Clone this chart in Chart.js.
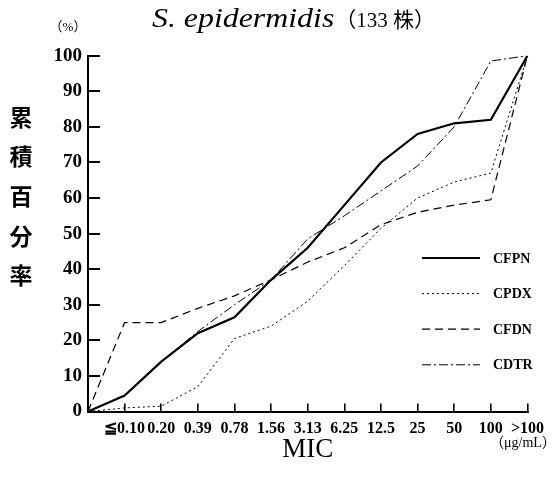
<!DOCTYPE html>
<html><head><meta charset="utf-8">
<script src="https://cdn.jsdelivr.net/npm/chart.js@4.4.1/dist/chart.umd.min.js"></script>
<style>html,body{margin:0;padding:0;background:#fff;}#wrap{width:560px;height:479px;}</style>
</head><body><div id="wrap"><canvas id="c" width="560" height="479"></canvas></div>
<script>
const categories = ['', '≦0.10', '0.20', '0.39', '0.78', '1.56', '3.13', '6.25', '12.5', '25', '50', '100', '>100'];
const seriesNames = ['CFPN', 'CPDX', 'CFDN', 'CDTR'];
const cfpn = [0, 4.5, 14, 22, 26.5, 37, 46, 58, 70, 78, 81, 82, 100];
const cpdx = [0, 1, 1.5, 7, 20.5, 24, 31, 41, 51.5, 60, 64.5, 67, 100];
const cfdn = [0, 25, 25, 29, 32.5, 37, 42, 46, 52.5, 56, 58, 59.5, 100];
const cdtr = [0, 4.5, 14, 22.5, 30, 37, 48.5, 55, 62, 69, 80, 98.5, 100];
const yMin = 0, yMax = 100, yStep = 10;
const titleItalic = 'S. epidermidis';
const titleRest = '（133 株）';
const yTitleChars = ['累', '積', '百', '分', '率'];
const xTitle = 'MIC';
const unitText = '（μg/mL）';
const pctText = '（%）';

const extraText = {
  id: 'extraText',
  afterDraw(chart) {
    const ctx = chart.ctx;
    ctx.save();
    ctx.fillStyle = '#000';
    ctx.textAlign = 'left';
    ctx.textBaseline = 'alphabetic';
    ctx.font = 'italic 27px "Liberation Serif", serif';
    const w = ctx.measureText(titleItalic).width * 1.18;
    ctx.save();
    ctx.translate(152, 27);
    ctx.scale(1.18, 1);
    ctx.fillText(titleItalic, 0, 0);
    ctx.restore();
    ctx.font = '21px "Liberation Serif", "Noto Sans CJK JP"';
    ctx.fillText(titleRest, 152 + w + 1, 27);
    // percent unit
    ctx.font = '13px "Liberation Serif", "Noto Sans CJK JP"';
    ctx.textAlign = 'center';
    ctx.textBaseline = 'middle';
    ctx.fillText(pctText, 68, 28);
    // y title stacked
    ctx.font = 'bold 23px "Noto Sans CJK JP"';
    yTitleChars.forEach((ch, i) => ctx.fillText(ch, 21, 117 + i * 39.6));
    // unit
    ctx.font = '14px "Liberation Serif", "Noto Sans CJK JP"';
    ctx.fillText(unitText, 523, 443);
    // legend
    chart.data.datasets.forEach((ds, i) => {
      const y = 258 + i * 35.6;
      ctx.beginPath();
      ctx.setLineDash(ds.borderDash || []);
      ctx.lineWidth = ds.borderWidth;
      ctx.strokeStyle = '#000';
      ctx.moveTo(422, y);
      ctx.lineTo(480, y);
      ctx.stroke();
      ctx.setLineDash([]);
      ctx.font = 'bold 14px "Liberation Serif"';
      ctx.textAlign = 'left';
      ctx.fillText(ds.label, 493, y + 1);
    });
    ctx.restore();
  }
};

const mk = (label, data, width, dash) => ({
  label, data, borderColor: '#000', backgroundColor: '#000', borderWidth: width,
  borderDash: dash, pointRadius: 0, tension: 0, fill: false
});

new Chart(document.getElementById('c'), {
  type: 'line',
  data: {
    labels: categories,
    datasets: [
      mk(seriesNames[0], cfpn, 2.2, []),
      mk(seriesNames[1], cpdx, 1, [2, 3]),
      mk(seriesNames[2], cfdn, 1.2, [8, 5]),
      mk(seriesNames[3], cdtr, 1, [9, 3, 2, 3])
    ]
  },
  options: {
    responsive: false,
    animation: false,
    devicePixelRatio: 1,
    layout: { padding: { top: 55.7, right: 28, left: 0, bottom: 0 } },
    plugins: { legend: { display: false }, title: { display: false }, tooltip: { enabled: false } },
    scales: {
      x: {
        type: 'category',
        offset: false,
        grid: { drawOnChartArea: false, drawTicks: true, tickLength: -8, color: '#000', lineWidth: 1.6 },
        border: { display: true, color: '#000', width: 2 },
        ticks: { color: '#000', padding: 16, autoSkip: false, maxRotation: 0, font: { family: '"Liberation Serif"', size: 16, weight: 'bold' } },
        title: { display: true, text: xTitle, color: '#000', font: { family: '"Liberation Serif"', size: 27 }, padding: { top: 0, bottom: 13 } },
        afterFit(s) { s.height = 67.5; }
      },
      y: {
        min: yMin, max: yMax,
        grid: { drawOnChartArea: false, drawTicks: true, tickLength: -12, color: '#000', lineWidth: 2 },
        border: { display: true, color: '#000', width: 2 },
        ticks: { stepSize: yStep, color: '#000', padding: 18, font: { family: '"Liberation Serif"', size: 19, weight: 'bold' } },
        afterFit(s) { s.width = 88; }
      }
    }
  },
  plugins: [extraText]
});
</script></body></html>
